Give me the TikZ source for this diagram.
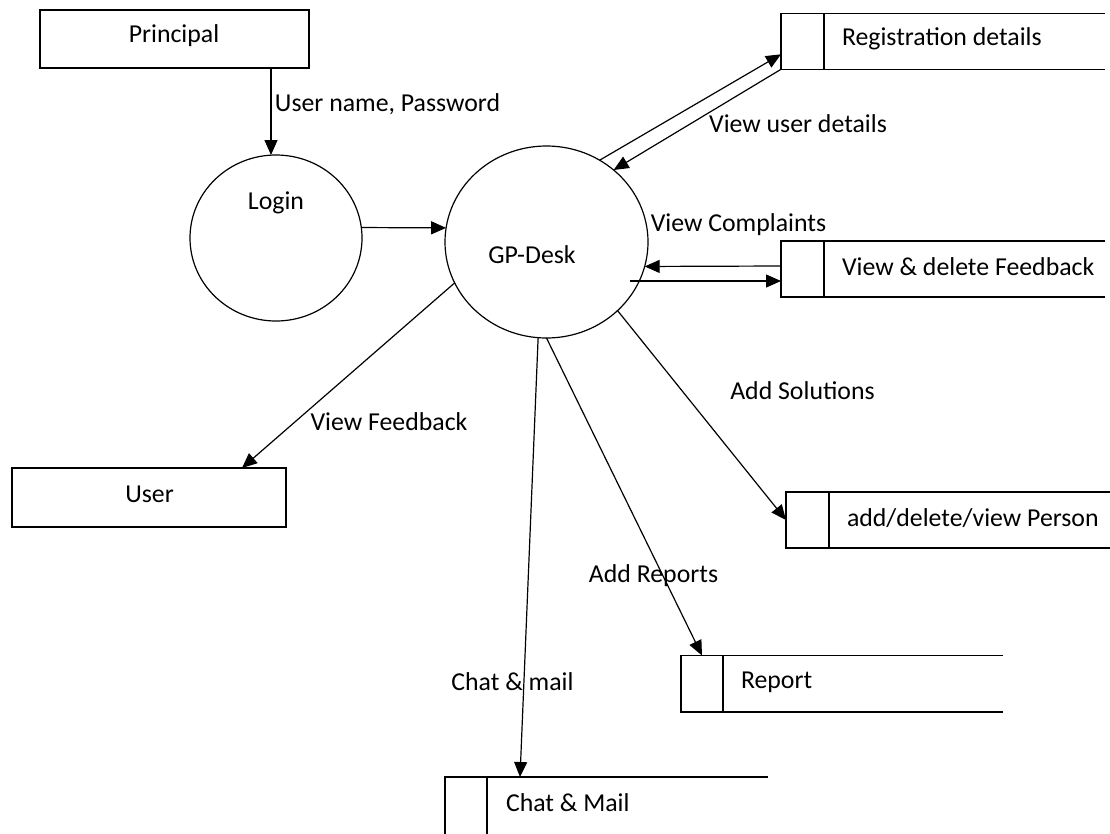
\documentclass[tikz,border=0pt]{standalone}
\usepackage{fontspec}
\setmainfont{Carlito}
\usetikzlibrary{arrows.meta,shapes.geometric,calc}
\newcommand\dfdstore[2]{%
  \draw (#1.north east) -- (#1.north west) -- (#1.south west) -- (#1.south east);
  \draw ([xshift=#2]#1.north west) -- ([xshift=#2]#1.south west);}
\begin{document}
\begin{tikzpicture}[x=1pt,y=-1pt,line width=1.2pt,
  arr/.style={-{Triangle[length=15pt,width=13pt]}},
  entity/.style={draw,rectangle,inner sep=0pt,outer sep=0pt},
  proc/.style={draw,ellipse,inner sep=0pt,outer sep=0pt},
  store/.style={rectangle,inner sep=0pt,outer sep=0pt},
  txt/.style={inner sep=0pt,outer sep=0pt,font=\fontsize{25.8}{30}\selectfont}]
\clip (0,0) rectangle (1110,833);
\fill[white] (0,0) rectangle (1110,833);
% entities
\node[entity,minimum width=269pt,minimum height=58pt] (principal) at (174.5,39) {};
\node[txt] (principalt) at (174,36) {Principal};
\node[entity,minimum width=274pt,minimum height=59pt] (user) at (149,497.5) {};
\node[txt] (usert) at (149.5,494) {User};
% processes
\node[proc,minimum width=172pt,minimum height=166pt] (login) at (276,238) {};
\node[txt] (logint) at (276,203) {Login};
\node[proc,minimum width=203pt,minimum height=192pt] (gp) at (546.5,242) {};
\node[txt] (gpt) at (532,255) {GP-Desk};
% data stores
\node[store,minimum width=324pt,minimum height=56pt] (reg) at (943,41.3) {};
\dfdstore{reg}{43pt}
\node[txt,anchor=west] (regt) at (842,39) {Registration details};
\node[store,minimum width=324pt,minimum height=56pt] (fb) at (943,269) {};
\dfdstore{fb}{43pt}
\node[txt,anchor=west] (fbt) at (842,267) {View \& delete Feedback};
\node[store,minimum width=324pt,minimum height=56pt] (person) at (948,520) {};
\dfdstore{person}{43pt}
\node[txt,anchor=west] (persont) at (847,518) {add/delete/view Person};
\node[store,minimum width=322pt,minimum height=56.5pt] (report) at (842,683.75) {};
\dfdstore{report}{42pt}
\node[txt,anchor=west] (reportt) at (741,682) {Report};
\node[store,minimum width=323pt,minimum height=63pt] (chat) at (606.5,808.5) {};
\dfdstore{chat}{42pt}
\node[txt,anchor=west] (chatt) at (506,803) {Chat \& Mail};
% connectors
\draw[arr] ([xshift=96.5pt]principal.south) -- ++(0,87);
\draw[arr] (login.7) -- (gp.172);
\draw[arr] (gp.57) -- ([yshift=-13pt]reg.west);
\draw[arr] (reg.south west) -- (gp.47);
\draw[arr] ([yshift=3pt]fb.west) -- (gp.-14);
\draw[arr] ([xshift=83.5pt,yshift=-39pt]gp.center) coordinate (fbo) -- (fbo -| fb.west);
\draw[arr] (gp.204) -- ([xshift=93pt]user.north);
\draw[arr] (gp.-44) -- (person.west);
\draw[arr] (gp.south) -- ([xshift=21pt]report.north west);
\draw[arr] (gp.265) -- ([xshift=75pt]chat.north west);
% flow labels
\node[txt] (l1) at (387.5,104) {User name, Password};
\node[txt] (l2) at (798,124) {View user details};
\node[txt] (l3) at (738.5,225) {View Complaints};
\node[txt] (l4) at (389,422) {View Feedback};
\node[txt] (l5) at (802.5,391) {Add Solutions};
\node[txt] (l6) at (653.5,576) {Add Reports};
\node[txt] (l7) at (512.5,682) {Chat \& mail};
\end{tikzpicture}
\end{document}
